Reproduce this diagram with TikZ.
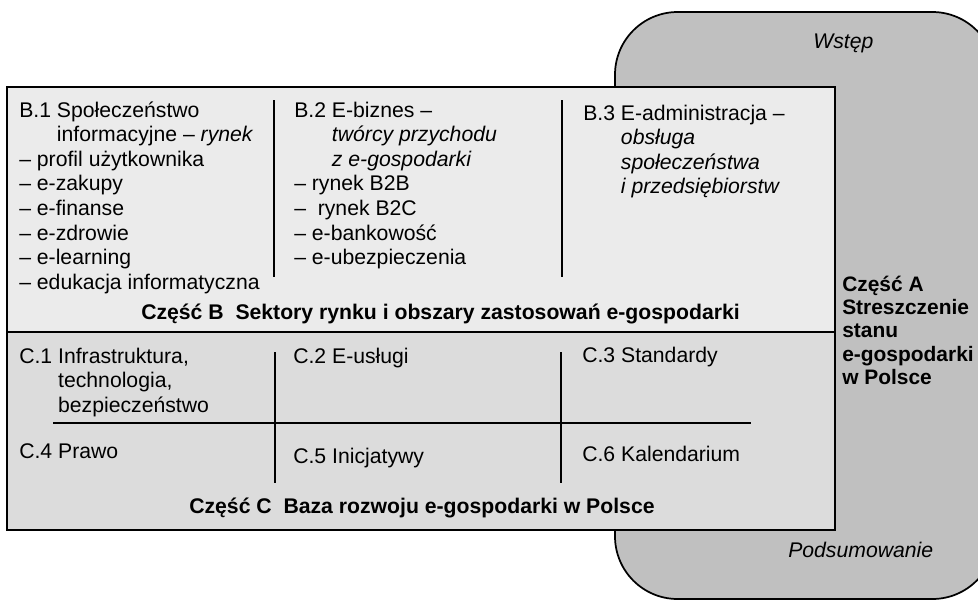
\documentclass[tikz,border=0pt]{standalone}
\usepackage{fontspec}
\setmainfont{Liberation Sans}
\usepackage{xcolor}
\usetikzlibrary{positioning}

\definecolor{partA}{HTML}{C0C0C0}
\definecolor{partB}{HTML}{EBEBEB}
\definecolor{partC}{HTML}{DCDCDC}

% lines of a block, baseline on the first line
\newcommand{\blocklines}[1]{\begin{tabular}[t]{@{}l@{}}#1\end{tabular}}

\begin{document}
\begin{tikzpicture}[x=0.75pt, y=-0.75pt,
        txt/.style={anchor=base west, inner sep=0pt, font=\fontsize{15.9}{18.45}\selectfont},
        head/.style={anchor=base west, inner sep=0pt, font=\fontsize{15.9}{18.45}\selectfont\bfseries},
        side/.style={anchor=base west, inner sep=0pt, font=\fontsize{15.7}{17.6}\selectfont\bfseries},
        frame/.style={draw, line width=1.3pt},
        divider/.style={line width=1.1pt}]
        \useasboundingbox (0,0) rectangle (978,601);
        \clip (0,0) rectangle (978,601);

        % Shapes
        \draw[frame, fill=partA, rounded corners=47pt] (615,12) rectangle (995,599);
        \draw[frame, fill=partB] (7,87) rectangle (835,332);
        \draw[frame, fill=partC] (7,332) rectangle (835,530);

        \draw[divider] (274,100) -- (274,277);
        \draw[divider] (562,100) -- (562,277);
        \draw[divider] (275,352) -- (275,483);
        \draw[divider] (561,352) -- (561,483);
        \draw[divider] (53,423) -- (751,423);

        % Nodes
        \node[txt] (Wstep) at (813,48) {\textit{Wstęp}};
        \node[txt] (Podsum) at (788,557) {\textit{Podsumowanie}};
        \node[side] (A) at (842,291) {\blocklines{Część A\\Streszczenie\\stanu\\e-gospodarki\\w Polsce}};

        \node[txt] (B1) at (19,117) {\blocklines{B.1 Społeczeństwo\\
            \phantom{B.1 }informacyjne – \textit{rynek}\\
            – profil użytkownika\\
            – e-zakupy\\
            – e-finanse\\
            – e-zdrowie\\
            – e-learning\\
            – edukacja informatyczna}};
        \node[txt] (B2) at (294,117) {\blocklines{B.2 E-biznes –\\
            \phantom{B.2 }\textit{twórcy przychodu}\\
            \phantom{B.2 }\textit{z e-gospodarki}\\
            – rynek B2B\\
            – \ rynek B2C\\
            – e-bankowość\\
            – e-ubezpieczenia}};
        \node[txt] (B3) at (583,120) {\blocklines{B.3 E-administracja –\\
            \phantom{B.3 }\textit{obsługa}\\
            \phantom{B.3 }\textit{społeczeństwa}\\
            \phantom{B.3 }\textit{i przedsiębiorstw}}};
        \node[head] (TB) at (141,319) {Część B\ \ Sektory rynku i obszary zastosowań e-gospodarki};

        \node[txt] (C1) at (19,363) {\blocklines{C.1 Infrastruktura,\\
            \phantom{C.1 }technologia,\\
            \phantom{C.1 }bezpieczeństwo}};
        \node[txt] (C2) at (293,363) {C.2 E-usługi};
        \node[txt] (C3) at (582,362) {C.3 Standardy};
        \node[txt] (C4) at (19,458) {C.4 Prawo};
        \node[txt] (C5) at (293,463) {C.5 Inicjatywy};
        \node[txt] (C6) at (582,461) {C.6 Kalendarium};
        \node[head] (TC) at (189,513) {Część C\ \ Baza rozwoju e-gospodarki w Polsce};
    \end{tikzpicture}
\end{document}
